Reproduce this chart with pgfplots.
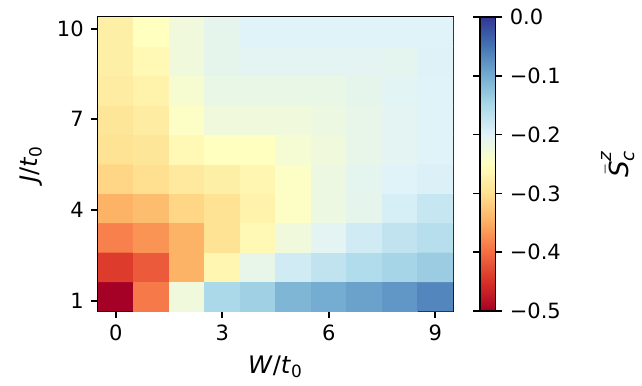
\documentclass[border=0pt]{standalone}
\usepackage{fontspec}
\setmainfont{DejaVu Sans}
\usepackage{amsmath}
\usepackage{pgfplots}
\pgfplotsset{compat=1.18}
\begin{document}
\begin{tikzpicture}
\path[use as bounding box] (-46.7pt,-35.7pt) rectangle (259pt,148.1pt);
\begin{axis}[
 at={(0,0)}, anchor=south west,
 scale only axis, width=169pt, height=140pt,
 xmin=-0.5, xmax=9.5, ymin=0.5, ymax=10.5,
 xtick={0,3,6,9}, xticklabels={0,3,6,9},
 ytick={0.85,3.94,7.03,10.09}, yticklabels={1,4,7,10},
 tick align=outside, xtick pos=bottom, ytick pos=left,
 major tick length=3.3pt,
 tick style={black, line width=0.8pt},
 axis line style={line width=0.8pt},
 label style={font=\fontsize{11.5}{13}\selectfont},
 xlabel={\textit{W}/\textit{t}\textsubscript{0}},
 ylabel={\textit{J}/\textit{t}\textsubscript{0}},
 colormap={rdylbu}{rgb255=(165,0,38) rgb255=(215,48,39) rgb255=(244,109,67) rgb255=(253,174,97) rgb255=(254,224,144) rgb255=(255,255,191) rgb255=(224,243,248) rgb255=(171,217,233) rgb255=(116,173,209) rgb255=(69,117,180) rgb255=(49,54,149)},
 point meta min=-0.5, point meta max=0,
 colorbar,
 colorbar style={
  at={(parent axis.north east)}, anchor=north west, xshift=4.3pt,
  width=7.4pt,
  ytick={-0.5,-0.4,-0.3,-0.2,-0.1,0},
  yticklabels={−0.5,−0.4,−0.3,−0.2,−0.1,0.0},
  tick align=outside, major tick length=3.3pt,
  tick style={black, line width=0.8pt},
  axis line style={line width=0.8pt},
  ylabel={$\bar{\text{\itshape S}}^{\text{\itshape z}}_{\text{\itshape c}}$},
  every axis y label/.style={at={(axis description cs:8.9,0.5)}, anchor=center, rotate=90, font=\fontsize{12.5}{14}\selectfont},
 },
]
\addplot[matrix plot*, mesh/cols=10, point meta=explicit] table[meta=c] {
x y c
0 1 -0.5
1 1 -0.39
2 1 -0.225
3 1 -0.15
4 1 -0.14
5 1 -0.11
6 1 -0.10
7 1 -0.09
8 1 -0.08
9 1 -0.065
0 2 -0.44
1 2 -0.415
2 2 -0.345
3 2 -0.265
4 2 -0.213
5 2 -0.185
6 2 -0.17
7 2 -0.155
8 2 -0.145
9 2 -0.135
0 3 -0.385
1 3 -0.37
2 3 -0.345
3 3 -0.295
4 3 -0.26
5 3 -0.225
6 3 -0.205
7 3 -0.185
8 3 -0.17
9 3 -0.16
0 4 -0.345
1 4 -0.335
2 4 -0.31
3 4 -0.295
4 4 -0.27
5 4 -0.245
6 4 -0.22
7 4 -0.21
8 4 -0.19
9 4 -0.175
0 5 -0.31
1 5 -0.30
2 5 -0.285
3 5 -0.275
4 5 -0.265
5 5 -0.245
6 5 -0.22
7 5 -0.207
8 5 -0.2
9 5 -0.195
0 6 -0.295
1 6 -0.29
2 6 -0.26
3 6 -0.25
4 6 -0.25
5 6 -0.233
6 6 -0.225
7 6 -0.213
8 6 -0.205
9 6 -0.2
0 7 -0.29
1 7 -0.28
2 7 -0.245
3 7 -0.225
4 7 -0.225
5 7 -0.225
6 7 -0.22
7 7 -0.213
8 7 -0.205
9 7 -0.2
0 8 -0.28
1 8 -0.27
2 8 -0.235
3 8 -0.215
4 8 -0.215
5 8 -0.215
6 8 -0.215
7 8 -0.21
8 8 -0.203
9 8 -0.2
0 9 -0.275
1 9 -0.26
2 9 -0.225
3 9 -0.21
4 9 -0.205
5 9 -0.205
6 9 -0.205
7 9 -0.205
8 9 -0.207
9 9 -0.198
0 10 -0.275
1 10 -0.25
2 10 -0.225
3 10 -0.21
4 10 -0.2
5 10 -0.2
6 10 -0.2
7 10 -0.2
8 10 -0.2
9 10 -0.2
};
\end{axis}
\end{tikzpicture}
\end{document}
